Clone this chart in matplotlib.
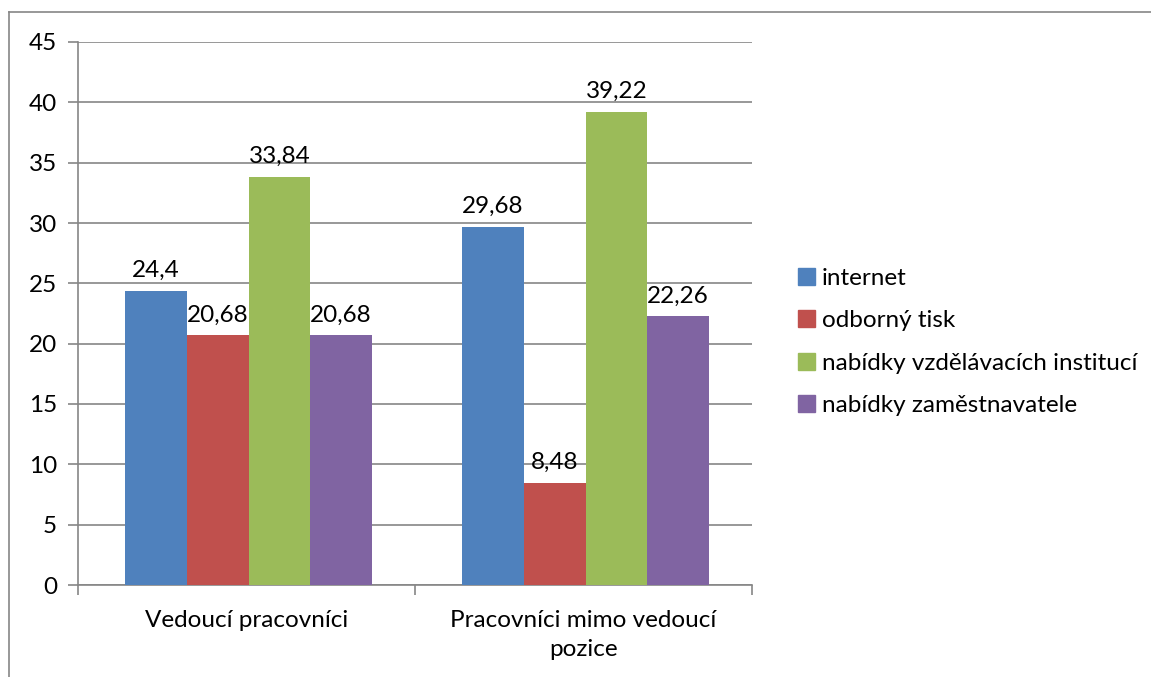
import matplotlib
matplotlib.use("Agg")
import matplotlib.pyplot as plt
from matplotlib.lines import Line2D
from matplotlib.patches import Rectangle
import numpy as np

categories = ["Vedoucí pracovníci", "Pracovníci mimo vedoucí\npozice"]
series_names = ["internet", "odborný tisk", "nabídky vzdělávacích institucí", "nabídky zaměstnavatele"]
internet = [24.4, 29.68]
odborny_tisk = [20.68, 8.48]
vzdelavaci_instituce = [33.84, 39.22]
zamestnavatel = [20.68, 22.26]
series_values = [internet, odborny_tisk, vzdelavaci_instituce, zamestnavatel]
colors = ["#4F81BD", "#C0504D", "#9BBB59", "#8064A2"]
y_ticks = list(range(0, 50, 5))

def fmt(v):
    return ("%g" % v).replace(".", ",")

plt.rcParams["font.family"] = ["Lato", "DejaVu Sans"]
FS = 17.5

fig = plt.figure(figsize=(11.51, 6.77), dpi=100)
W, H = 1151, 677
ax = fig.add_axes([78 / W, 1 - 585 / H, (752 - 78) / W, (585 - 42) / H])

bw = 0.183
x = np.arange(len(categories))
start = -0.36 + bw / 2
for i, (name, vals, c) in enumerate(zip(series_names, series_values, colors)):
    pos = x + start + i * bw
    ax.bar(pos, vals, width=bw, color=c, label=name, zorder=3)
    for p, v in zip(pos, vals):
        ax.text(p, v + 0.8, fmt(v), ha="center", va="bottom", fontsize=FS, color="#000000")

ax.set_xlim(-0.5, 1.5)
ax.set_ylim(0, 45)
ax.set_yticks(y_ticks)
ax.set_yticklabels([str(t) for t in y_ticks], fontsize=FS)
ax.yaxis.grid(True, color="#868686", linewidth=1.2, zorder=0)
ax.tick_params(axis="y", length=7, width=1.2, color="#868686", pad=8, direction="out")

ax.set_xticks(x)
ax.set_xticklabels(categories, fontsize=FS, linespacing=1.5)
ax.tick_params(axis="x", which="major", length=0, pad=18)
ax.set_xticks([-0.5, 0.5, 1.5], minor=True)
ax.tick_params(axis="x", which="minor", length=7, width=1.2, color="#868686", direction="out")

for side in ["top", "right"]:
    ax.spines[side].set_visible(False)
for side in ["left", "bottom"]:
    ax.spines[side].set_color("#868686")
    ax.spines[side].set_linewidth(1.2)

handles = [Rectangle((0, 0), 1, 1, color=c) for c in colors]
fig.legend(handles, series_names, loc="upper left", bbox_to_anchor=(788 / W, 1 - 258 / H),
           frameon=False, fontsize=FS, handlelength=0.7, handleheight=0.7,
           handletextpad=0.3, labelspacing=0.88, borderaxespad=0)

# outer chart frame
fig.add_artist(Line2D([9 / W, 9 / W], [0, 1 - 12 / H], transform=fig.transFigure,
                      color="#868686", linewidth=1.2))
fig.add_artist(Line2D([9 / W, 1], [1 - 12 / H, 1 - 12 / H], transform=fig.transFigure,
                      color="#868686", linewidth=1.2))

fig.savefig("out.png", dpi=100)
